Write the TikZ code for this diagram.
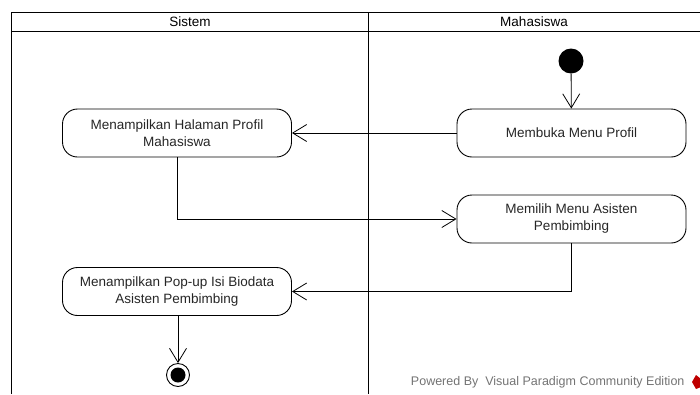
\documentclass[tikz,border=0pt]{standalone}
\usepackage{fontspec}
\setmainfont{Liberation Sans}
\usetikzlibrary{arrows.meta}
\begin{document}
\begin{tikzpicture}[x=1pt,y=-1pt,
  act/.style={draw, line width=0.9pt, rounded corners=15pt, minimum width=229pt, minimum height=48pt, align=center, font=\fontsize{13.5}{17}\selectfont, inner sep=2pt, text=black!85},
  flow/.style={draw, line width=0.8pt, -{Straight Barb[length=14pt,width=17pt,line width=0.8pt]}},
  lane/.style={line width=1.8pt},
  hdr/.style={font=\fontsize{13.5}{15}\selectfont}]
\useasboundingbox (0,0) rectangle (700,394);
% swimlane frame
\draw[lane] (11.5,394) -- (11.5,12.5) -- (700,12.5);
\draw[line width=1.5pt] (11.5,31.5) -- (700,31.5);
\draw[lane] (368.5,12.5) -- (368.5,394);
\node[hdr] (h1) at (190,22) {Sistem};
\node[hdr] (h2) at (534,22) {Mahasiswa};
% nodes
\node[circle, fill=black, minimum size=25pt, inner sep=0pt] (start) at (571,61) {};
\node[act] (membuka) at (571.5,133) {Membuka Menu Profil};
\node[act] (halaman) at (177,133) {Menampilkan Halaman Profil\\Mahasiswa};
\node[act] (memilih) at (571.5,219) {Memilih Menu Asisten\\Pembimbing};
\node[act] (popup) at (177,291.5) {Menampilkan Pop-up Isi Biodata\\Asisten Pembimbing};
\node[circle, draw, line width=0.9pt, minimum size=23pt, inner sep=0pt] (end) at (178,375) {};
\node[circle, fill=black, minimum size=15pt, inner sep=0pt] (endin) at (end) {};
% connectors
\draw[flow] (start) -- (membuka);
\draw[flow] (membuka) -- (halaman);
\draw[flow] (halaman.south) |- (memilih.west);
\draw[flow] (memilih.south) |- (popup.east);
\draw[flow] (popup.south -| end) -- (end);
% watermark
\node[anchor=east, text=black!55, font=\fontsize{12.5}{14}\selectfont] (wm) at (688,382) {Powered By\ \ Visual Paradigm Community Edition};
\fill[red!75!black] (696,375) -- (701,379) -- (701,387) -- (696,389) -- (692,382) -- cycle;
\end{tikzpicture}
\end{document}
